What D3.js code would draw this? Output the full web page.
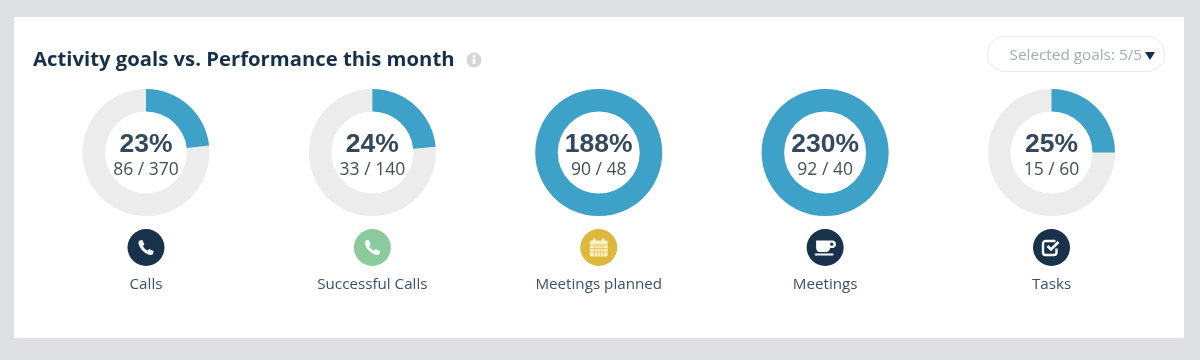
<!DOCTYPE html>
<html>
<head>
<meta charset="utf-8">
<script src="https://cdn.jsdelivr.net/npm/d3@7"></script>
<style>
  html, body { margin: 0; padding: 0; background: #dfe0e4; }
  svg { display: block; filter: blur(0.4px); }
  text { font-family: "Open Sans", sans-serif; }
</style>
</head>
<body>
<div id="activity_goals"></div>
<script>
// values
const goalNames = ["Calls", "Successful Calls", "Meetings planned", "Meetings", "Tasks"];
const actuals = [86, 33, 90, 92, 15];
const goals = [370, 140, 48, 40, 60];
const percentLabels = ["23%", "24%", "188%", "230%", "25%"];
const iconKinds = ["phone", "phone", "calendar", "cup", "check"];
const iconColors = ["#18324b", "#8aca9c", "#dcb93c", "#18324b", "#18324b"];

const width = 1200, height = 360;
const card = {left: 14, top: 17, right: 1184, bottom: 338};
const donutY = 152.5, outerR = 63.5, innerR = 41;

const svg = d3.select("#activity_goals")
  .append("svg")
  .attr("width", width)
  .attr("height", height);

svg.append("rect")
  .attr("x", card.left)
  .attr("y", card.top)
  .attr("width", card.right - card.left)
  .attr("height", card.bottom - card.top)
  .attr("fill", "#fff");

// header
svg.append("text")
  .attr("x", 33)
  .attr("y", 66)
  .attr("font-size", 20.3)
  .attr("font-weight", 700)
  .attr("fill", "#17304a")
  .text("Activity goals vs. Performance this month");

const info = svg.append("g").attr("transform", "translate(474,60)");
info.append("circle").attr("r", 7.5).attr("fill", "#d6d6d6");
info.append("rect").attr("x", -1.3).attr("y", -1.5).attr("width", 2.6).attr("height", 5.5).attr("fill", "#fff");
info.append("circle").attr("cy", -3.8).attr("r", 1.4).attr("fill", "#fff");

// dropdown
svg.append("rect")
  .attr("x", 987.5)
  .attr("y", 36.5)
  .attr("width", 177)
  .attr("height", 35)
  .attr("rx", 17.5)
  .attr("fill", "#fff")
  .attr("stroke", "#e8e9ed");
svg.append("text")
  .attr("x", 1142)
  .attr("y", 60)
  .attr("text-anchor", "end")
  .attr("font-size", 15.3)
  .attr("fill", "#a6acb3")
  .text("Selected goals: 5/5");
svg.append("path")
  .attr("d", "M1145,52H1155L1150,60Z")
  .attr("fill", "#17304a");

/**
 * Scales
 */
const x = d3.scalePoint()
  .domain(goalNames)
  .range([146, 1051.5]);

const angle = d3.scaleLinear()
  .domain([0, 1])
  .range([0, 2 * Math.PI])
  .clamp(true);

const iconColor = d3.scaleOrdinal()
  .domain(goalNames)
  .range(iconColors);

const arc = d3.arc()
  .innerRadius(innerR)
  .outerRadius(outerR)
  .startAngle(0);

const rows = goalNames.map((name, i) => ({
  name: name,
  actual: actuals[i],
  goal: goals[i],
  percent: percentLabels[i],
  icon: iconKinds[i]
}));

const item = svg.selectAll("g.goal")
  .data(rows)
  .enter()
  .append("g")
  .attr("class", "goal")
  .attr("transform", d => `translate(${x(d.name)},0)`);

// track and value
item.append("path")
  .attr("transform", `translate(0,${donutY})`)
  .attr("d", arc({endAngle: 2 * Math.PI}))
  .attr("fill", "#ececec");
item.append("path")
  .attr("transform", `translate(0,${donutY})`)
  .attr("d", d => arc({endAngle: angle(d.actual / d.goal)}))
  .attr("fill", "#3ea2c8");

item.append("text")
  .attr("y", 152)
  .attr("text-anchor", "middle")
  .style("font-family", '"Liberation Sans", sans-serif')
  .attr("font-size", 26.5)
  .attr("font-weight", 700)
  .attr("fill", "#34495c")
  .text(d => d.percent);
item.append("text")
  .attr("y", 175)
  .attr("text-anchor", "middle")
  .attr("font-size", 17.5)
  .attr("fill", "#4a4f55")
  .text(d => `${d.actual} / ${d.goal}`);

// icons, in a box centered on the badge
const drawIcon = {
  phone: (g, c) => {
    g.append("path")
      .attr("d", "M-6.5,-7 L-3.6,-7.6 L-1.6,-3.2 L-3,-1.6 C-2.2,0.4 -0.4,2.2 1.6,3 L3.2,1.6 L7.6,3.6 L7,6.5 C6.2,7.6 4.6,7.8 3,7.2 C-1.6,5.8 -5.8,1.6 -7.2,-3 C-7.8,-4.6 -7.6,-6.2 -6.5,-7 Z")
      .attr("fill", "#fff")
      .attr("fill-opacity", 0.95);
  },
  calendar: (g, c) => {
    g.append("rect").attr("x", -9).attr("y", -7).attr("width", 18).attr("height", 16).attr("rx", 1.5).attr("fill", "#fbeebf");
    [-4.5, 4.5].forEach(p => g.append("rect").attr("x", p - 1).attr("y", -9).attr("width", 2).attr("height", 4).attr("fill", "#fff"));
    [-2.5, 1, 4.5].forEach(p => {
      g.append("line").attr("x1", -9).attr("x2", 9).attr("y1", p).attr("y2", p).attr("stroke", c).attr("stroke-width", 0.6);
    });
    [-4.5, -1.5, 1.5, 4.5].forEach(p => {
      g.append("line").attr("x1", p).attr("x2", p).attr("y1", -3).attr("y2", 9).attr("stroke", c).attr("stroke-width", 0.6);
    });
  },
  cup: (g, c) => {
    g.append("path")
      .attr("d", "M-9,-7 H7 A3.6,3.6 0 0 1 7,0.5 H5 C4.5,3 3,4.5 1,4.5 H-5 C-7.5,4.5 -9,3 -9,0 Z")
      .attr("fill", "#fff");
    g.append("circle").attr("cx", 6.6).attr("cy", -3.3).attr("r", 1.6).attr("fill", c);
    g.append("rect").attr("x", -10.5).attr("y", 6).attr("width", 19).attr("height", 2).attr("rx", 1).attr("fill", "#fff");
  },
  check: (g, c) => {
    g.append("path")
      .attr("d", "M5,1 V5 A2.5,2.5 0 0 1 2.5,7.5 H-6 A2.5,2.5 0 0 1 -8.5,5 V-4 A2.5,2.5 0 0 1 -6,-6.5 H4")
      .attr("fill", "none")
      .attr("stroke", "#fff")
      .attr("stroke-width", 2.4);
    g.append("path")
      .attr("d", "M-4,-1.5 L-0.5,2 L7,-5.5")
      .attr("fill", "none")
      .attr("stroke", "#fff")
      .attr("stroke-width", 2.6);
  }
};

const badge = item.append("g").attr("transform", "translate(0,247.5)");
badge.append("circle")
  .attr("r", 18.5)
  .attr("fill", d => iconColor(d.name));
badge.each(function(d) {
  drawIcon[d.icon](d3.select(this), iconColor(d.name));
});

item.append("text")
  .attr("y", 288.5)
  .attr("text-anchor", "middle")
  .attr("font-size", 15.2)
  .attr("fill", "#3c5167")
  .text(d => d.name);
</script>
</body>
</html>
